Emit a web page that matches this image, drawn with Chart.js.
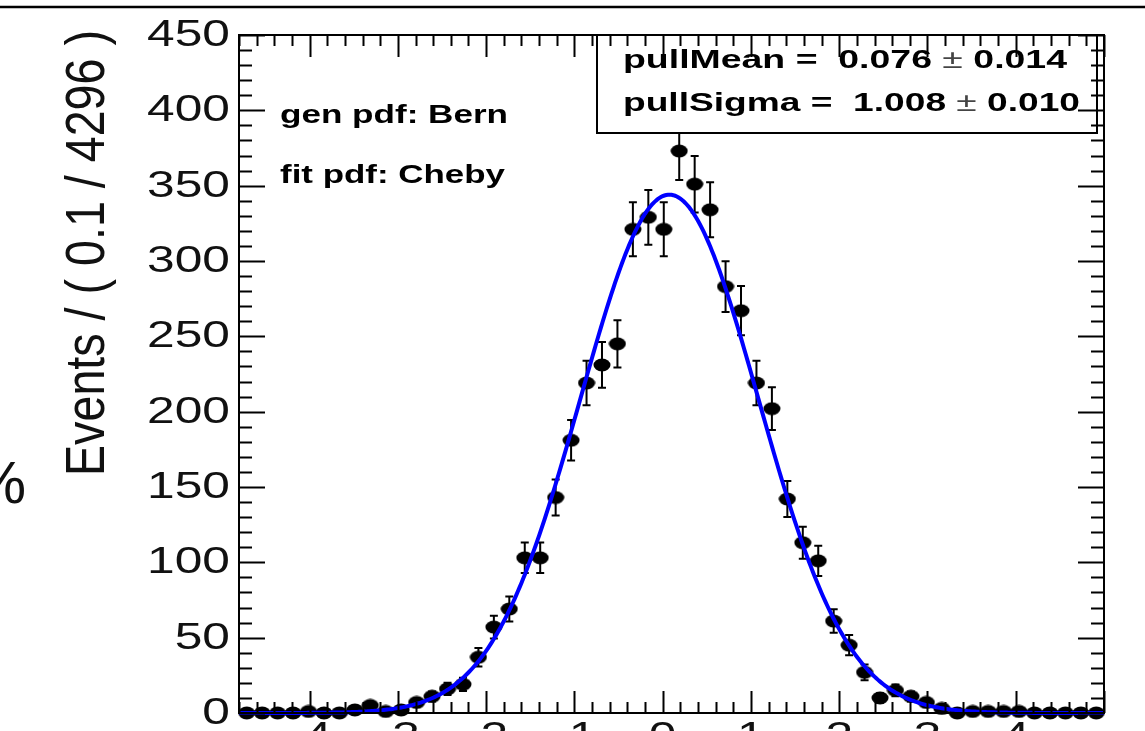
<!DOCTYPE html>
<html>
<head>
<meta charset="utf-8">
<script src="https://cdn.jsdelivr.net/npm/chart.js@4.4.0/dist/chart.umd.min.js"></script>
<style>
  html, body { margin: 0; padding: 0; background: #fff; overflow: hidden; }
  #wrap { width: 1145px; height: 731px; position: relative; }
</style>
</head>
<body>
<div id="wrap"><canvas id="pullChart" width="1145" height="731"></canvas></div>
<script>
'use strict';

// HISTOGRAM (pull distribution, 56 bins)

const X_MIN = -4.8;
const X_MAX = 5.0;
const BIN_W = 0.175;
const Y_MAX = 450;

const counts = [
  0, 0, 0, 0, 1, 0, 0, 2, 5, 1,
  2, 7, 11, 16, 19, 37, 57, 69, 103, 103,
  143, 181, 219, 231, 245, 321, 329, 321, 373, 351,
  334, 283, 267, 219, 202, 142, 113, 101, 61, 45,
  27, 10, 15, 11, 7, 3, 0, 1, 1, 1,
  1, 0, 0, 0, 0, 0
];

const yTickValues = [0, 50, 100, 150, 200, 250, 300, 350, 400, 450];
const xTickValues = [-4, -3, -2, -1, 0, 1, 2, 3, 4];
const xTickLabels = ['-4', '-3', '-2', '-1', '0', '1', '2', '3', '4'];

// fit result
const pullMean = 0.076;
const pullMeanErr = 0.014;
const pullSigma = 1.008;
const pullSigmaErr = 0.010;
const fitPeak = 344;

const genLabel = 'gen pdf: Bern';
const fitLabel = 'fit pdf: Cheby';
const yTitle = 'Events / ( 0.1 / 4296 )';

const FONT = '"Liberation Sans", Arial, Helvetica, sans-serif';

// points at bin centres
const points = counts.map(function(n, i) {
  return { x: X_MIN + (i + 0.5) * BIN_W, y: n };
});

// fitted gaussian
const fitCurve = [];
for (let k = 0; k <= 490; k++) {
  const x = X_MIN + k * 0.02;
  const z = (x - pullMean) / pullSigma;
  fitCurve.push({ x: x, y: fitPeak * Math.exp(-0.5 * z * z) });
}

// ellipse marker (ROOT style full circle, a bit squashed)
const marker = document.createElement('canvas');
marker.width = 18;
marker.height = 14;
(function() {
  const m = marker.getContext('2d');
  m.fillStyle = '#000';
  m.beginPath();
  m.ellipse(9, 7, 8.5, 6.5, 0, 0, Math.PI * 2);
  m.fill();
})();

// draw text squeezed/stretched horizontally
function stretchText(c, text, x, y, sx, align) {
  const w = c.measureText(text).width * sx;
  let x0 = x;
  if (align === 'right') x0 = x - w;
  if (align === 'center') x0 = x - w / 2;
  c.save();
  c.translate(x0, y);
  c.scale(sx, 1);
  c.textAlign = 'left';
  c.fillText(text, 0, 0);
  c.restore();
  return w;
}

// text runs fitted to a target width
function drawRuns(c, runs, x, y, targetW) {
  let natural = 0;
  runs.forEach(function(r) {
    c.font = r.font;
    natural += c.measureText(r.t).width;
  });
  const sx = targetW / natural;
  let cx = x;
  runs.forEach(function(r) {
    c.font = r.font;
    c.fillStyle = r.color;
    cx += stretchText(c, r.t, cx, y, sx, 'left');
  });
}

// ERROR BARS

const errorBars = {
  id: 'errorBars',
  beforeDatasetsDraw: function(chart) {
    const c = chart.ctx;
    const xs = chart.scales.x;
    const ys = chart.scales.y;
    const area = chart.chartArea;
    c.save();
    c.beginPath();
    c.rect(area.left - 10, area.top, area.right - area.left + 20, area.bottom - area.top + 8);
    c.clip();
    c.strokeStyle = '#000';
    c.lineWidth = 2;
    points.forEach(function(p) {
      const px = xs.getPixelForValue(p.x);
      const py = ys.getPixelForValue(p.y);
      const x1 = xs.getPixelForValue(p.x - BIN_W / 2);
      const x2 = xs.getPixelForValue(p.x + BIN_W / 2);
      c.beginPath();
      c.moveTo(x1, py);
      c.lineTo(x2, py);
      c.stroke();
      if (p.y > 0) {
        const e = Math.sqrt(p.y);
        const yTop = ys.getPixelForValue(p.y + e);
        const yBot = ys.getPixelForValue(p.y - e);
        c.beginPath();
        c.moveTo(px, yTop);
        c.lineTo(px, yBot);
        c.moveTo(px - 4, yTop);
        c.lineTo(px + 4, yTop);
        c.moveTo(px - 4, yBot);
        c.lineTo(px + 4, yBot);
        c.stroke();
      }
    });
    c.restore();
  }
};

// FRAME, TICKS, TEXT

const frame = {
  id: 'frame',
  afterDraw: function(chart) {
    const c = chart.ctx;
    const xs = chart.scales.x;
    const ys = chart.scales.y;
    const a = chart.chartArea;
    c.save();

    // line across the top of the canvas
    c.strokeStyle = '#000';
    c.lineWidth = 2.5;
    c.beginPath();
    c.moveTo(0, 7);
    c.lineTo(1145, 7);
    c.stroke();

    // stats box
    c.fillStyle = '#fff';
    c.fillRect(597, a.top, 500, 98);
    c.lineWidth = 2;
    c.strokeRect(597, a.top, 500, 98);

    const bold = 'bold 26px ' + FONT;
    const plain = '26px ' + FONT;
    drawRuns(c, [
      { t: 'pullMean =  ' + pullMean.toFixed(3) + ' ', font: bold, color: '#000' },
      { t: '\u00B1', font: plain, color: '#444' },
      { t: ' ' + pullMeanErr.toFixed(3), font: bold, color: '#000' }
    ], 623, 68, 444);
    drawRuns(c, [
      { t: 'pullSigma =  ' + pullSigma.toFixed(3) + ' ', font: bold, color: '#000' },
      { t: '\u00B1', font: plain, color: '#444' },
      { t: ' ' + pullSigmaErr.toFixed(3), font: bold, color: '#000' }
    ], 623, 111, 457);

    // gen / fit labels
    c.textBaseline = 'alphabetic';
    drawRuns(c, [{ t: genLabel, font: 'bold 25px ' + FONT, color: '#000' }], 280, 123, 228);
    drawRuns(c, [{ t: fitLabel, font: 'bold 25px ' + FONT, color: '#000' }], 280, 183, 225);

    // frame
    c.strokeStyle = '#000';
    c.lineWidth = 2;
    c.strokeRect(a.left, a.top, a.right - a.left, a.bottom - a.top);

    // x ticks, bottom and top, every 0.2
    c.beginPath();
    for (let k = 0; k <= 49; k++) {
      const v = X_MIN + k * 0.2;
      const major = Math.abs(v - Math.round(v)) < 1e-6;
      const len = major ? 22 : 11;
      const px = Math.round(xs.getPixelForValue(v)) + 0.5;
      c.moveTo(px, a.bottom);
      c.lineTo(px, a.bottom - len);
      c.moveTo(px, a.top);
      c.lineTo(px, a.top + len);
    }
    // y ticks, left and right, every 10
    for (let v = 0; v <= Y_MAX; v += 10) {
      const len = v % 50 === 0 ? 26 : 13;
      const py = Math.round(ys.getPixelForValue(v)) + 0.5;
      c.moveTo(a.left, py);
      c.lineTo(a.left + len, py);
      c.moveTo(a.right, py);
      c.lineTo(a.right - len, py);
    }
    c.stroke();

    // tick labels
    c.fillStyle = '#111';
    c.font = '36px ' + FONT;
    c.textBaseline = 'middle';
    yTickValues.forEach(function(v) {
      stretchText(c, String(v), 230, ys.getPixelForValue(v) + 1, 1.38, 'right');
    });
    c.textBaseline = 'alphabetic';
    xTickValues.forEach(function(v, i) {
      stretchText(c, xTickLabels[i], xs.getPixelForValue(v), 748, 1.38, 'center');
    });

    // y axis title
    c.font = '46px ' + FONT;
    const tw = c.measureText(yTitle).width;
    c.save();
    c.translate(104, 476);
    c.rotate(-Math.PI / 2);
    c.scale(446 / tw, 1.2);
    c.textAlign = 'left';
    c.fillText(yTitle, 0, 0);
    c.restore();

    // stray percent sign at the left edge
    c.font = '60px ' + FONT;
    c.textAlign = 'right';
    c.fillText('%', 26, 503);

    c.restore();
  }
};

const ctx = document.getElementById('pullChart').getContext('2d');

const chart = new Chart(ctx, {
  type: 'scatter',
  data: {
    datasets: [
      {
        // fit curve on top
        type: 'line',
        data: fitCurve,
        borderColor: '#0000ff',
        borderWidth: 4,
        pointRadius: 0,
        tension: 0,
        fill: false,
        clip: { left: 0, top: 0, right: 0, bottom: 4 },
        order: 0
      },
      {
        data: points,
        pointStyle: marker,
        pointRadius: 8,
        clip: 10,
        order: 1
      }
    ]
  },
  options: {
    responsive: false,
    animation: false,
    devicePixelRatio: 1,
    layout: { padding: { left: 239, right: 41, top: 35, bottom: 18 } },
    plugins: {
      legend: { display: false },
      tooltip: { enabled: false }
    },
    scales: {
      x: { type: 'linear', min: X_MIN, max: X_MAX, display: false },
      y: { type: 'linear', min: 0, max: Y_MAX, display: false }
    }
  },
  plugins: [errorBars, frame]
});
</script>
</body>
</html>
